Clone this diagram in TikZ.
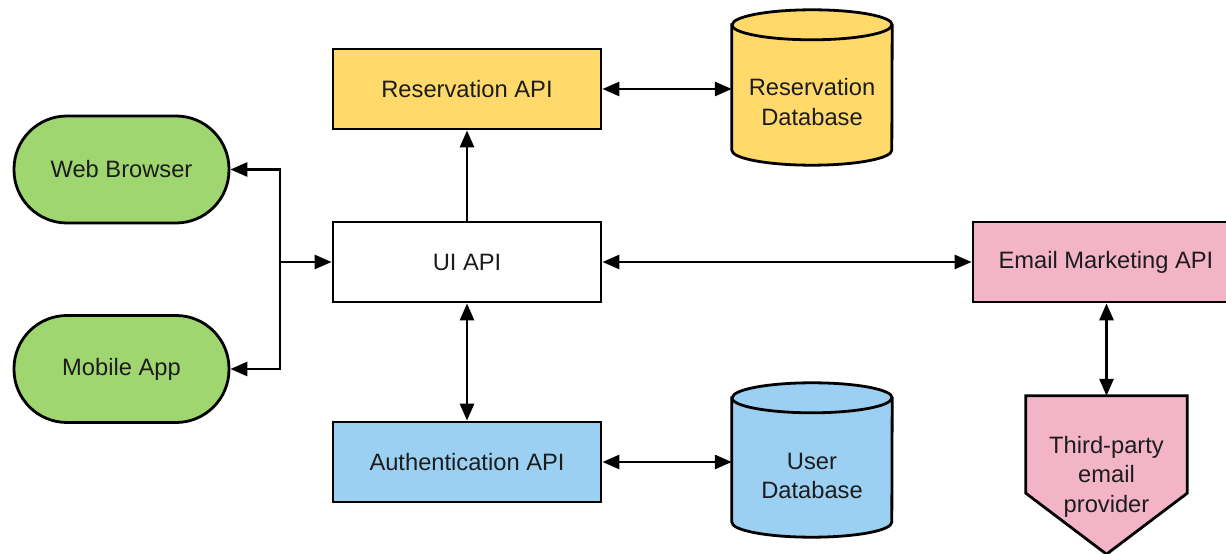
\documentclass[tikz,border=0pt]{standalone}
\usepackage{fontspec}
\setmainfont{Liberation Sans}
\usetikzlibrary{arrows.meta}

\definecolor{clientgreen}{RGB}{160,214,112}
\definecolor{resyellow}{RGB}{255,217,106}
\definecolor{authblue}{RGB}{156,208,242}
\definecolor{mailpink}{RGB}{243,180,199}
\definecolor{inkgray}{RGB}{28,28,28}

\begin{document}
\begin{tikzpicture}[x=1pt,y=1pt,
  label font/.style={font=\fontsize{23.7}{29.5}\selectfont, text=inkgray},
  apibox/.style={draw=black, line width=2.8pt, minimum width=268pt, minimum height=80pt,
                 inner sep=0pt, label font},
  client/.style={draw=black, line width=2.8pt, minimum width=215pt, minimum height=107pt,
                 rounded corners=53pt, inner sep=0pt, fill=clientgreen, label font},
  dbarea/.style={minimum width=160pt, minimum height=155pt, inner sep=0pt},
  dbline/.style={draw=black, line width=2.8pt},
  multi/.style={align=center, label font},
  link/.style={line width=2.8pt, draw=black},
  oneway/.style={link, -{Triangle[length=17pt,width=14pt]}},
  twoway/.style={link, {Triangle[length=17pt,width=14pt]}-{Triangle[length=17pt,width=14pt]}}
]
\useasboundingbox (0,0) rectangle (1226,554);

% clients
\node[client] (wb) at (121.5,384.5) {Web Browser};
\node[client] (ma) at (121.5,185) {Mobile App};

% services
\node[apibox, fill=white]     (ui) at (467,292) {UI API};
\node[apibox, fill=resyellow] (ra) at (467,465) {Reservation API};
\node[apibox, fill=authblue]  (aa) at (467,92)  {Authentication API};
\node[apibox, fill=mailpink, minimum width=266pt] (em) at (1106,292) {Email Marketing API};

% reservation database cylinder
\node[dbarea] (rdb) at (812,466.5) {};
\path[dbline, fill=resyellow]
  ([yshift=-15pt]rdb.north west) -- ([yshift=15pt]rdb.south west)
  arc[start angle=180, end angle=360, x radius=80pt, y radius=15pt]
  -- ([yshift=-15pt]rdb.north east)
  arc[start angle=0, end angle=180, x radius=80pt, y radius=15pt] -- cycle;
\draw[dbline] ([yshift=-15pt]rdb.north west)
  arc[start angle=180, end angle=360, x radius=80pt, y radius=15pt];
\node[multi] at ([yshift=-14.5pt]rdb.center) {Reservation\\Database};

% user database cylinder
\node[dbarea, minimum height=154pt] (udb) at (812,94) {};
\path[dbline, fill=authblue]
  ([yshift=-15pt]udb.north west) -- ([yshift=15pt]udb.south west)
  arc[start angle=180, end angle=360, x radius=80pt, y radius=15pt]
  -- ([yshift=-15pt]udb.north east)
  arc[start angle=0, end angle=180, x radius=80pt, y radius=15pt] -- cycle;
\draw[dbline] ([yshift=-15pt]udb.north west)
  arc[start angle=180, end angle=360, x radius=80pt, y radius=15pt];
\node[multi] at ([yshift=-16pt]udb.center) {User\\Database};

% third-party provider (off-page connector shape)
\node[minimum width=161pt, minimum height=158pt, inner sep=0pt] (tp) at (1106.5,79) {};
\path[dbline, fill=mailpink]
  (tp.north west) -- (tp.north east) -- ([yshift=61pt]tp.south east)
  -- (tp.south) -- ([yshift=61pt]tp.south west) -- cycle;
\node[multi] at (1106.5,77.5) {Third-party\\email\\provider};

% connectors
\coordinate (j) at (280,292);
\draw[oneway] (j) -- (ui.west);
\draw[oneway] (j) |- (wb.east);
\draw[oneway] (j) |- (ma.east);
\draw[oneway] (ui.north) -- (ra.south);
\draw[twoway] (ui.south) -- (aa.north);
\draw[twoway] (ra.east) -- (ra.east -| rdb.west);
\draw[twoway] (aa.east) -- (aa.east -| udb.west);
\draw[twoway] (ui.east) -- (em.west);
\draw[twoway] (tp.north |- em.south) -- (tp.north);
\end{tikzpicture}
\end{document}
